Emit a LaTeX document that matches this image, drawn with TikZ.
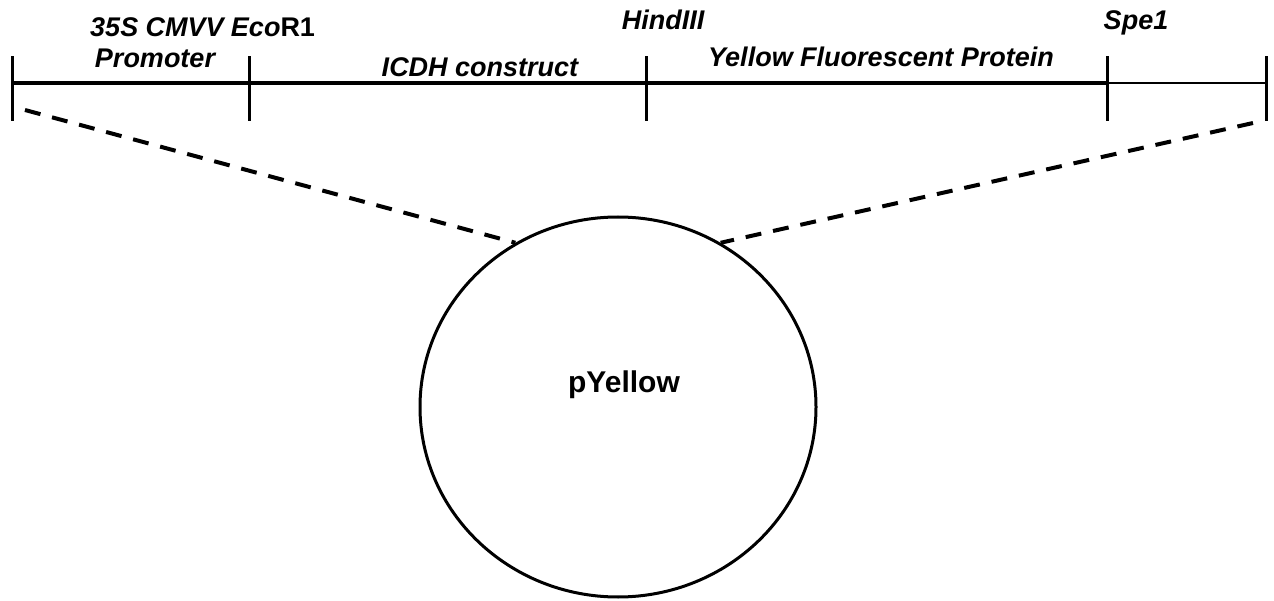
\documentclass[tikz,border=0pt]{standalone}
\usepackage{fontspec}
\setmainfont{Liberation Sans}
\usetikzlibrary{shapes.geometric}
\begin{document}
\begin{tikzpicture}[x=1pt,y=-1pt,
  lbl/.style={font=\fontsize{27}{30}\selectfont\bfseries\itshape, anchor=base, inner sep=0pt},
  tick/.style={line width=3pt},
  bar/.style={line width=3.2pt},
  dashline/.style={line width=4pt, dash pattern=on 16pt off 12pt}]
\useasboundingbox (0,0) rectangle (1274,601);
% tick coordinates
\coordinate (t1) at (12,83);
\coordinate (t2) at (249,83);
\coordinate (t3) at (646,83);
\coordinate (t4) at (1107,83);
\coordinate (t5) at (1266,83);
\draw[bar] (t1) -- (t2) -- (t3) -- (t4);
\draw[line width=2.4pt] (t4) -- (t5);
\foreach \t in {t1,t2,t3,t4,t5}{
  \draw[tick] ([yshift=-38pt]\t) -- ([yshift=27pt]\t);
}
% labels
\node[lbl] (l35) at (157,37) {35S CMVV};
\node[lbl] (lpro) at (155,68) {Promoter};
\node[lbl] (leco) at (273,37) {Eco\upshape R1};
\node[lbl] (licdh) at (480,77) {ICDH construct};
\node[lbl] (lhind) at (663,30) {HindIII};
\node[lbl] (lyfp) at (881,67) {Yellow Fluorescent Protein};
\node[lbl] (lspe) at (1136,30) {Spe1};
% plasmid
\node[ellipse, draw, line width=3pt, minimum width=396pt, minimum height=380pt, inner sep=0pt] (plas) at (618,407) {};
\node[font=\fontsize{30}{33}\selectfont\bfseries, anchor=base, inner sep=0pt] (pname) at (624,392) {pYellow};
% dashed connectors
\coordinate (dl) at (25,110);
\coordinate (dr) at (1253,123);
\draw[dashline] (dl) -- (plas.122);
\draw[dashline] (dr) -- (plas.58);
\end{tikzpicture}
\end{document}
